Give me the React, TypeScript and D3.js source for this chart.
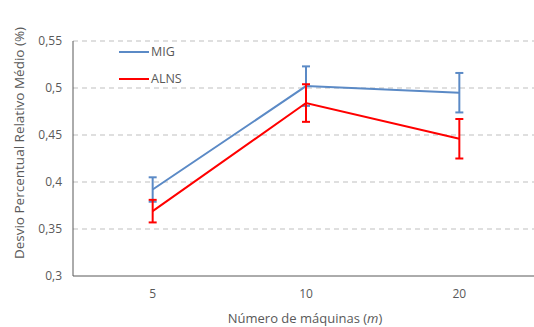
import { useMemo } from "react";
import * as d3 from "d3";

const categories = ["5", "10", "20"];
const migValues = [0.392, 0.502, 0.495];
const migErrors = [0.013, 0.021, 0.021];
const alnsValues = [0.369, 0.484, 0.446];
const alnsErrors = [0.012, 0.02, 0.021];
const yTicks = [0.3, 0.35, 0.4, 0.45, 0.5, 0.55];

const W = 534;
const H = 327;
const PLOT = { left: 76, right: 536, top: 41, bottom: 276 };
const TEXT = "#595959";
const FONT = "'Open Sans', 'Liberation Sans', sans-serif";

const series = [
  { name: "MIG", color: "#5B8AC6", values: migValues, errors: migErrors },
  { name: "ALNS", color: "#FF0000", values: alnsValues, errors: alnsErrors },
];

export default function App() {
  const x = useMemo(
    () => d3.scaleBand().domain(categories).range([PLOT.left, PLOT.right]),
    []
  );
  const y = useMemo(
    () => d3.scaleLinear().domain([0.3, 0.55]).range([PLOT.bottom, PLOT.top]),
    []
  );
  const cx = (c: string) => (x(c) ?? 0) + x.bandwidth() / 2;
  const line = d3
    .line<number>()
    .x((_, i) => cx(categories[i]))
    .y((d) => y(d));
  const fmt = (v: number) => String(+v.toFixed(2)).replace(".", ",");

  return (
    <svg
      width={W}
      height={H}
      style={{ position: "absolute", left: 0, top: 0, background: "#fff" }}
      fontFamily={FONT}
    >
      {/* grid */}
      {yTicks.slice(1).map((t) => (
        <line
          key={t}
          x1={PLOT.left - 3}
          x2={PLOT.right}
          y1={y(t)}
          y2={y(t)}
          stroke="#BFBFBF"
          strokeDasharray="5,4"
        />
      ))}
      {/* axes */}
      <line x1={PLOT.left - 3} x2={PLOT.left - 3} y1={PLOT.top} y2={PLOT.bottom} stroke="#595959" />
      <line x1={PLOT.left - 3} x2={PLOT.right} y1={PLOT.bottom} y2={PLOT.bottom} stroke="#595959" />
      {yTicks.map((t) => (
        <text
          key={t}
          x={62}
          y={y(t)}
          dy="0.35em"
          textAnchor="end"
          fontSize={12}
          fill={TEXT}
        >
          {fmt(t)}
        </text>
      ))}
      {categories.map((c) => (
        <text key={c} x={cx(c)} y={298} textAnchor="middle" fontSize={12} fill={TEXT}>
          {c}
        </text>
      ))}
      <text x={305} y={323} textAnchor="middle" fontSize={13} fill={TEXT}>
        Número de máquinas (<tspan fontStyle="italic">m</tspan>)
      </text>
      <text
        transform={`translate(24,143) rotate(-90)`}
        textAnchor="middle"
        fontSize={13.5}
        fill={TEXT}
      >
        Desvio Percentual Relativo Médio (%)
      </text>
      {/* series */}
      {series.map((s) => (
        <g key={s.name}>
          <path d={line(s.values) ?? ""} fill="none" stroke={s.color} strokeWidth={2} />
          {s.values.map((v, i) => {
            const px = cx(categories[i]);
            const y1 = y(v + s.errors[i]);
            const y2 = y(v - s.errors[i]);
            return (
              <g key={i} stroke={s.color} strokeWidth={2}>
                <line x1={px} x2={px} y1={y1} y2={y2} />
                <line x1={px - 4} x2={px + 4} y1={y1} y2={y1} />
                <line x1={px - 4} x2={px + 4} y1={y2} y2={y2} />
              </g>
            );
          })}
        </g>
      ))}
      {/* legend */}
      {series.map((s, i) => (
        <g key={s.name} transform={`translate(119,${52 + i * 27})`}>
          <line x1={0} x2={30} y1={0} y2={0} stroke={s.color} strokeWidth={2} />
          <text x={32} y={0} dy="0.35em" fontSize={12.5} fill={TEXT}>
            {s.name}
          </text>
        </g>
      ))}
    </svg>
  );
}
